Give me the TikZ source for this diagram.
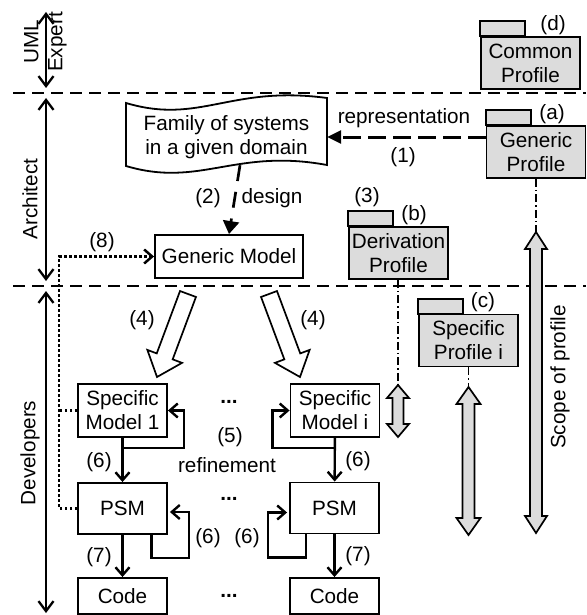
\documentclass[tikz,border=0pt]{standalone}
\usepackage{fontspec}
\setmainfont{Liberation Sans}
\usetikzlibrary{arrows.meta,calc}
\definecolor{pkgfill}{RGB}{220,220,220}
\begin{document}
\begin{tikzpicture}[x=1pt,y=-1pt,
  every node/.style={font=\fontsize{20.7}{24}\selectfont, inner sep=0pt},
  box/.style={draw, line width=1.9pt, minimum width=89pt, align=center},
  pkg/.style={draw, fill=pkgfill, line width=1.8pt, minimum width=99pt, minimum height=52pt, align=center},
  pkgtab/.style={draw, fill=pkgfill, line width=1.8pt},
  sep/.style={line width=1.9pt, dash pattern=on 12pt off 7pt},
  role/.style={line width=2.3pt, {Straight Barb[length=10pt,width=15pt]}-{Straight Barb[length=10pt,width=15pt]}},
  conn/.style={line width=2.4pt, -{Straight Barb[length=8pt,width=14pt]}},
  dotline/.style={line width=2.5pt, dash pattern=on 2.5pt off 2.5pt},
  scopeline/.style={line width=1.1pt, dash pattern=on 8pt off 3pt on 1.5pt off 3pt},
  blockarrow/.style={draw, line width=1.7pt, fill=white},
  scopearrow/.style={draw, line width=1.7pt, fill=pkgfill},
  rotlabel/.style={rotate=90, align=center}
]
\useasboundingbox (0,0) rectangle (586,615);

% lane separators
\coordinate (s1a) at (13,93);  \coordinate (s1b) at (586,93);
\coordinate (s2a) at (13,286); \coordinate (s2b) at (586,286);
\draw[sep] (s1a) -- (s1b);
\draw[sep] (s2a) -- (s2b);

% role extents
\coordinate (r1t) at (46,12);  \coordinate (r1b) at (46,88);
\coordinate (r2t) at (46,98);  \coordinate (r2b) at (46,281);
\coordinate (r3t) at (46,291); \coordinate (r3b) at (46,613);
\draw[role] (r1t) -- (r1b);
\draw[role] (r2t) -- (r2b);
\draw[role] (r3t) -- (r3b);
\node[rotlabel] (lux) at (45.5,42) {UML\\Expert};
\node[rotlabel] (lar) at (30,199) {Architect};
\node[rotlabel] (lde) at (30,453) {Developers};

% profiles
\node[pkg] (cp) at (530.5,63) {Common\\Profile};
\draw[pkgtab] (cp.north west) rectangle ++(45,-15);
\node (lbd) at (553,25) {(d)};

\node[pkg] (gp) at (536,152) {Generic\\Profile};
\draw[pkgtab] (gp.north west) rectangle ++(45,-15);
\node (lba) at (552,114) {(a)};

\node[pkg] (dp) at (398.5,253) {Derivation\\Profile};
\draw[pkgtab] (dp.north west) rectangle ++(45,-15);
\node (lbb) at (414,215) {(b)};
\node (lb3) at (367,197) {(3)};

\node[pkg] (spi) at (468.5,340.5) {Specific\\Profile i};
\draw[pkgtab] (spi.north west) rectangle ++(45,-15);
\node (lbc) at (483,302) {(c)};

% family of systems (document shape)
\node[minimum width=201pt, minimum height=70pt, align=center] (fam) at (226.5,137)
  {Family of systems\\in a given domain};
\draw[line width=1.8pt] (126,103) .. controls (200,125) and (230,85) .. (327,98)
  -- (327,165) .. controls (235,148) and (200,188) .. (126,166) -- cycle;

% generic model
\node[box, minimum width=148pt, minimum height=43pt] (gm) at (229,256.5) {Generic Model};

% representation and design
\draw[line width=3pt, dash pattern=on 18pt off 7pt, -{Triangle[length=14pt,width=13pt]}]
  ($(gp.west)+(0,-15)$) -- (fam.east);
\node (lrep) at (404,118) {representation};
\node (lb1) at (403,157) {(1)};
\draw[line width=2.7pt, dash pattern=on 16pt off 11pt, -{Triangle[length=13pt,width=16pt]}]
  ($(fam.south)+(13.5,-7)$) -- (gm.north);
\node (lb2) at (208,198) {(2)};
\node (ldes) at (272,198) {design};

% specific models, PSMs, code
\node[box, minimum height=53pt] (sm1) at (122.5,410.5) {Specific\\Model 1};
\node[box, minimum height=51pt] (psm1) at (122.5,508.5) {PSM};
\node[box, minimum height=36pt] (code1) at (122.5,596) {Code};
\node[box, minimum height=53pt] (sm2) at (335,410.5) {Specific\\Model i};
\node[box, minimum height=51pt] (psm2) at (334.5,508) {PSM};
\node[box, minimum height=36pt] (code2) at (334.5,596) {Code};

\node (e1) at (229,402) {\textbf{...}};
\node (e2) at (229,499) {\textbf{...}};
\node (e3) at (229,596) {\textbf{...}};

% derivation block arrows
\begin{scope}[shift={(188,294)}, rotate=-110.48]
  \draw[blockarrow] (0,-8.5) -- (66.6,-8.5) -- (66.6,-18.5) -- (88.6,0)
    -- (66.6,18.5) -- (66.6,8.5) -- (0,8.5) -- cycle;
\end{scope}
\begin{scope}[shift={(269,294)}, rotate=-69.52]
  \draw[blockarrow] (0,-8.5) -- (66.6,-8.5) -- (66.6,-18.5) -- (88.6,0)
    -- (66.6,18.5) -- (66.6,8.5) -- (0,8.5) -- cycle;
\end{scope}
\node (lb4a) at (142,320) {(4)};
\node (lb4b) at (313,320) {(4)};

% refinement steps
\draw[conn] (sm1) -- (psm1);
\draw[conn] (psm1) -- (code1);
\draw[conn] (sm2) -- (psm2);
\draw[conn] (psm2) -- (code2);
\draw[conn] ($(sm1.south)+(0,10)$) -| ($(sm1.east)+(16,0)$) -- (sm1.east);
\draw[conn] ($(sm2.south)+(0,10)$) -| ($(sm2.west)+(-17,0)$) -- (sm2.west);
\draw[conn] ($(psm1.south)+(29,0)$) -- ++(0,23) -| ($(psm1.east)+(21,3.5)$) -- ($(psm1.east)+(2,3.5)$);
\draw[conn] ($(psm2.south)+(-28.5,0)$) -- ++(0,23) -| ($(psm2.west)+(-21,4.5)$) -- ($(psm2.west)+(-2,4.5)$);
\node (lb5) at (230,437) {(5)};
\node (lref) at (227,465) {refinement};
\node (lb6a) at (99,462) {(6)};
\node (lb6b) at (358,461) {(6)};
\node (lb6c) at (208,538) {(6)};
\node (lb6d) at (247,538) {(6)};
\node (lb7a) at (99,557) {(7)};
\node (lb7b) at (358,556) {(7)};

% feedback to the generic model
\draw[dotline, -{Straight Barb[length=8pt,width=14pt]}]
  (psm1.west) -| ($(gm.west)+(-95,0)$) -- (gm.west);
\draw[dotline] (sm1.west) -- ++(-18,0);
\node (lb8) at (102,242) {(8)};

% scope of the profiles
\coordinate (sc1) at (536,232);
\coordinate (sc2) at (398,385);
\coordinate (sc3) at (468.5,387);
\draw[scopeline] (gp.south) -- (sc1);
\draw[scopeline] (dp.south -| sc2) -- (sc2);
\draw[scopeline] (spi.south) -- (sc3);
\draw[scopearrow] (536,232) -- (547,249) -- (542,249) -- (542,516) -- (547,516)
  -- (536,533) -- (525,516) -- (530,516) -- (530,249) -- (525,249) -- cycle;
\draw[scopearrow] (398,385) -- (409,398) -- (403.5,398) -- (403.5,424) -- (409,424)
  -- (398,437) -- (387,424) -- (392.5,424) -- (392.5,398) -- (387,398) -- cycle;
\draw[scopearrow] (468.5,387) -- (480.5,404) -- (474.5,404) -- (474.5,518) -- (480.5,518)
  -- (468.5,535) -- (456.5,518) -- (462.5,518) -- (462.5,404) -- (456.5,404) -- cycle;
\node[rotlabel] (lsc) at (560,377) {Scope of profile};
\end{tikzpicture}
\end{document}
